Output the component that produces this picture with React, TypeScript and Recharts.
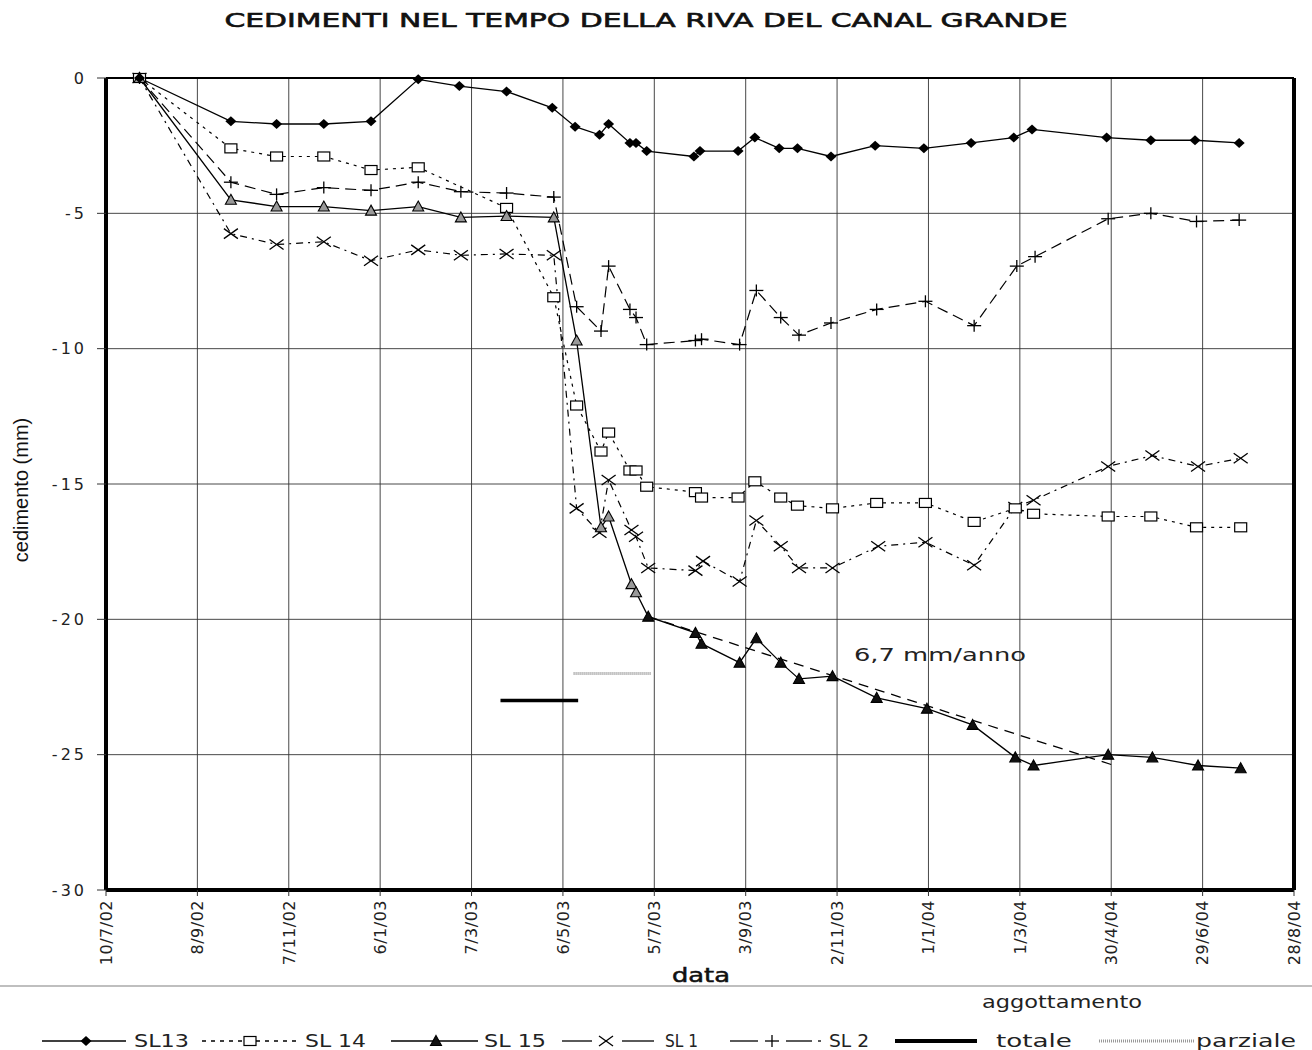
import { LineChart, Line, XAxis, YAxis, CartesianGrid, ReferenceLine } from 'recharts'

// days counted from 10/7/02 (first tick of the date axis)
const X_TICKS = [0, 60, 120, 180, 240, 300, 360, 420, 480, 540, 600, 660, 720, 780]
const X_LABELS = [
  '10/7/02', '8/9/02', '7/11/02', '6/1/03', '7/3/03', '6/5/03', '5/7/03',
  '3/9/03', '2/11/03', '1/1/04', '1/3/04', '30/4/04', '29/6/04', '28/8/04',
]
const Y_TICKS = [0, -5, -10, -15, -20, -25, -30]

const SL13_DAYS = [22, 82, 112, 143, 174, 205, 232, 263, 293, 308, 324, 330, 344, 348, 355, 386, 390, 415, 426, 442, 454, 476, 505, 537, 568, 596, 608, 657, 686, 715, 744]
const SL13_VALS = [0, -1.6, -1.7, -1.7, -1.6, -0.05, -0.3, -0.5, -1.1, -1.8, -2.1, -1.7, -2.4, -2.4, -2.7, -2.9, -2.7, -2.7, -2.2, -2.6, -2.6, -2.9, -2.5, -2.6, -2.4, -2.2, -1.9, -2.2, -2.3, -2.3, -2.4]

const SL14_DAYS = [22, 82, 112, 143, 174, 205, 263, 294, 309, 325, 330, 344, 348, 355, 387, 391, 415, 426, 443, 454, 477, 506, 538, 570, 597, 609, 658, 686, 716, 745]
const SL14_VALS = [0, -2.6, -2.9, -2.9, -3.4, -3.3, -4.8, -8.1, -12.1, -13.8, -13.1, -14.5, -14.5, -15.1, -15.3, -15.5, -15.5, -14.9, -15.5, -15.8, -15.9, -15.7, -15.7, -16.4, -15.9, -16.1, -16.2, -16.2, -16.6, -16.6]

const SL15_DAYS = [22, 82, 112, 143, 174, 205, 233, 263, 294, 309, 325, 330, 345, 348, 356, 387, 391, 416, 427, 443, 455, 477, 506, 539, 569, 597, 609, 658, 687, 717, 745]
const SL15_VALS = [0, -4.5, -4.75, -4.75, -4.9, -4.75, -5.15, -5.1, -5.15, -9.7, -16.6, -16.2, -18.7, -19.0, -19.9, -20.5, -20.9, -21.6, -20.7, -21.6, -22.2, -22.1, -22.9, -23.3, -23.9, -25.1, -25.4, -25.0, -25.1, -25.4, -25.5]

const SL1_DAYS = [22, 82, 112, 143, 174, 205, 233, 263, 294, 309, 324, 330, 345, 348, 356, 387, 392, 416, 427, 443, 455, 477, 507, 538, 570, 597, 609, 658, 687, 717, 745]
const SL1_VALS = [0, -5.75, -6.15, -6.05, -6.75, -6.35, -6.55, -6.5, -6.55, -15.9, -16.8, -14.85, -16.7, -16.95, -18.1, -18.2, -17.85, -18.6, -16.35, -17.3, -18.1, -18.1, -17.3, -17.15, -18.0, -15.85, -15.6, -14.35, -13.95, -14.35, -14.05]

const SL2_DAYS = [22, 82, 112, 143, 174, 205, 233, 263, 294, 309, 325, 330, 344, 348, 355, 387, 391, 416, 427, 443, 455, 476, 506, 538, 570, 598, 610, 658, 686, 716, 744]
const SL2_VALS = [0, -3.85, -4.3, -4.05, -4.15, -3.85, -4.2, -4.25, -4.4, -8.45, -9.35, -6.95, -8.55, -8.85, -9.85, -9.7, -9.65, -9.85, -7.85, -8.85, -9.5, -9.05, -8.55, -8.25, -9.15, -6.95, -6.6, -5.2, -5.0, -5.3, -5.25]

// 6,7 mm/anno trend and the two "aggottamento" bars
const TREND_DAYS = [356, 662]
const TREND_VALS = [-19.9, -25.4]
const TOTALE_DAYS = [259, 310]
const TOTALE_VALS = [-23, -23]
const PARZIALE_DAYS = [307, 358]
const PARZIALE_VALS = [-22, -22]

const toPoints = (days: number[], vals: number[]) => days.map((day, i) => ({ day, v: vals[i] }))

const FONT = '"DejaVu Sans", sans-serif'

function Diamond({ cx, cy }: { cx: number; cy: number }) {
  return <polygon points={`${cx},${cy - 5} ${cx + 5.5},${cy} ${cx},${cy + 5} ${cx - 5.5},${cy}`} fill="#000" />
}
function Square({ cx, cy }: { cx: number; cy: number }) {
  return <rect x={cx - 6} y={cy - 4.5} width={12} height={9} fill="#fff" stroke="#000" strokeWidth={1.2} />
}
function Triangle({ cx, cy, fill }: { cx: number; cy: number; fill: string }) {
  return <polygon points={`${cx},${cy - 5.5} ${cx + 5.5},${cy + 4.5} ${cx - 5.5},${cy + 4.5}`} fill={fill} stroke="#000" strokeWidth={1.1} />
}
function Cross({ cx, cy }: { cx: number; cy: number }) {
  return (
    <g stroke="#000" strokeWidth={1.3}>
      <line x1={cx - 7} y1={cy - 5} x2={cx + 7} y2={cy + 5} />
      <line x1={cx - 7} y1={cy + 5} x2={cx + 7} y2={cy - 5} />
    </g>
  )
}
function Plus({ cx, cy }: { cx: number; cy: number }) {
  return (
    <g stroke="#000" strokeWidth={1.3}>
      <line x1={cx - 7} y1={cy} x2={cx + 7} y2={cy} />
      <line x1={cx} y1={cy - 6} x2={cx} y2={cy + 6} />
    </g>
  )
}

const diamondDot = (p: any) => <Diamond key={`d-${p.index}`} cx={p.cx} cy={p.cy} />
const squareDot = (p: any) => <Square key={`s-${p.index}`} cx={p.cx} cy={p.cy} />
const triangleDot = (p: any) => (
  <Triangle key={`t-${p.index}`} cx={p.cx} cy={p.cy} fill={p.payload.day < 350 ? '#999' : '#111'} />
)
const crossDot = (p: any) => <Cross key={`x-${p.index}`} cx={p.cx} cy={p.cy} />
const plusDot = (p: any) => <Plus key={`p-${p.index}`} cx={p.cx} cy={p.cy} />

function DateTick({ x, y, payload }: any) {
  const i = X_TICKS.indexOf(payload.value)
  return (
    <text
      transform={`translate(${x},${y}) rotate(-90)`}
      textAnchor="end"
      dy="0.36em"
      fontSize={16}
      fontFamily={FONT}
      letterSpacing={0.5}
      fill="#222"
    >
      {X_LABELS[i]}
    </text>
  )
}

function ValueTick({ x, y, payload }: any) {
  return (
    <text x={x} y={y} dy="0.36em" textAnchor="end" fontSize={16} fontFamily={FONT} letterSpacing={3} fill="#222">
      {payload.value}
    </text>
  )
}

function Legend() {
  const y = 1041
  const label = (x: number, w: number, text: string) => (
    <text x={x} y={y + 6} fontSize={17} fontFamily={FONT} fill="#222" textLength={w} lengthAdjust="spacingAndGlyphs">
      {text}
    </text>
  )
  return (
    <g>
      <line x1={42} y1={y} x2={126} y2={y} stroke="#000" strokeWidth={1.3} />
      <Diamond cx={86} cy={y} />
      {label(134, 55, 'SL13')}
      <line x1={202} y1={y} x2={297} y2={y} stroke="#000" strokeWidth={1.3} strokeDasharray="4 5" />
      <Square cx={250} cy={y} />
      {label(305, 61, 'SL 14')}
      <line x1={391} y1={y} x2={478} y2={y} stroke="#000" strokeWidth={1.3} />
      <Triangle cx={436} cy={y} fill="#111" />
      {label(484, 62, 'SL 15')}
      <line x1={562} y1={y} x2={592} y2={y} stroke="#000" strokeWidth={1.3} />
      <line x1={622} y1={y} x2={654} y2={y} stroke="#000" strokeWidth={1.3} />
      <Cross cx={606} cy={y} />
      {label(665, 33, 'SL 1')}
      <line x1={730} y1={y} x2={758} y2={y} stroke="#000" strokeWidth={1.3} />
      <line x1={786} y1={y} x2={812} y2={y} stroke="#000" strokeWidth={1.3} />
      <line x1={818} y1={y} x2={821} y2={y} stroke="#000" strokeWidth={1.3} />
      <Plus cx={772} cy={y} />
      {label(829, 40, 'SL 2')}
      <line x1={895} y1={y} x2={977} y2={y} stroke="#000" strokeWidth={4} />
      {label(996, 76, 'totale')}
      <line x1={1099} y1={y} x2={1194} y2={y} stroke="#999" strokeWidth={3} strokeDasharray="1 1" />
      {label(1196, 100, 'parziale')}
    </g>
  )
}

export default function App() {
  return (
    <div style={{ position: 'absolute', left: 0, top: 0, width: 1312, height: 1050, background: '#fff' }}>
      <LineChart width={1312} height={1050} margin={{ top: 78, right: 18, bottom: 80, left: 46 }}>
        <CartesianGrid stroke="#333" strokeWidth={0.9} />
        <XAxis
          type="number"
          dataKey="day"
          domain={[0, 780]}
          ticks={X_TICKS}
          interval={0}
          height={80}
          tick={DateTick}
          tickSize={6}
          tickMargin={4}
          axisLine={{ stroke: '#000', strokeWidth: 4 }}
          tickLine={{ stroke: '#333' }}
        />
        <YAxis
          type="number"
          domain={[-30, 0]}
          ticks={Y_TICKS}
          interval={0}
          width={60}
          tick={ValueTick}
          tickSize={9}
          tickMargin={10}
          axisLine={{ stroke: '#000', strokeWidth: 4 }}
          tickLine={{ stroke: '#333' }}
        />
        <ReferenceLine y={0} stroke="#000" strokeWidth={2} />
        <ReferenceLine x={780} stroke="#000" strokeWidth={4} />
        <Line data={toPoints(TREND_DAYS, TREND_VALS)} dataKey="v" stroke="#000" strokeWidth={1.3} strokeDasharray="10 7" dot={false} activeDot={false} isAnimationActive={false} />
        <Line data={toPoints(TOTALE_DAYS, TOTALE_VALS)} dataKey="v" stroke="#000" strokeWidth={3.5} dot={false} activeDot={false} isAnimationActive={false} />
        <Line data={toPoints(PARZIALE_DAYS, PARZIALE_VALS)} dataKey="v" stroke="#999" strokeWidth={3} strokeDasharray="1 1" dot={false} activeDot={false} isAnimationActive={false} />
        <Line data={toPoints(SL2_DAYS, SL2_VALS)} dataKey="v" name="SL 2" stroke="#000" strokeWidth={1.2} strokeDasharray="11 6" dot={plusDot} activeDot={false} isAnimationActive={false} />
        <Line data={toPoints(SL1_DAYS, SL1_VALS)} dataKey="v" name="SL 1" stroke="#000" strokeWidth={1.2} strokeDasharray="7 5 2 5" dot={crossDot} activeDot={false} isAnimationActive={false} />
        <Line data={toPoints(SL14_DAYS, SL14_VALS)} dataKey="v" name="SL 14" stroke="#000" strokeWidth={1.2} strokeDasharray="3 5" dot={squareDot} activeDot={false} isAnimationActive={false} />
        <Line data={toPoints(SL15_DAYS, SL15_VALS)} dataKey="v" name="SL 15" stroke="#000" strokeWidth={1.3} dot={triangleDot} activeDot={false} isAnimationActive={false} />
        <Line data={toPoints(SL13_DAYS, SL13_VALS)} dataKey="v" name="SL13" stroke="#000" strokeWidth={1.3} dot={diamondDot} activeDot={false} isAnimationActive={false} />
      </LineChart>
      <svg width={1312} height={1050} style={{ position: 'absolute', left: 0, top: 0, pointerEvents: 'none' }}>
        <text x={646} y={27} textAnchor="middle" fontSize={19} fontFamily={FONT} fill="#111" stroke="#111" strokeWidth={0.6} textLength={843} lengthAdjust="spacingAndGlyphs">
          CEDIMENTI NEL TEMPO DELLA RIVA DEL CANAL GRANDE
        </text>
        <text transform="translate(28,490) rotate(-90)" textAnchor="middle" fontSize={20} fontFamily='"Liberation Sans Narrow", "Liberation Sans", sans-serif' fill="#111">
          cedimento (mm)
        </text>
        <text x={940} y={661} textAnchor="middle" fontSize={17} fontFamily={FONT} fill="#222" textLength={172} lengthAdjust="spacingAndGlyphs">
          6,7 mm/anno
        </text>
        <text x={701} y={982} textAnchor="middle" fontSize={19} fontFamily={FONT} fill="#111" stroke="#111" strokeWidth={0.5} textLength={58} lengthAdjust="spacingAndGlyphs">
          data
        </text>
        <line x1={0} y1={986} x2={1312} y2={986} stroke="#aaa" strokeWidth={1.5} />
        <text x={1062} y={1008} textAnchor="middle" fontSize={18} fontFamily={FONT} fill="#222" textLength={160} lengthAdjust="spacingAndGlyphs">
          aggottamento
        </text>
        <Legend />
      </svg>
    </div>
  )
}
